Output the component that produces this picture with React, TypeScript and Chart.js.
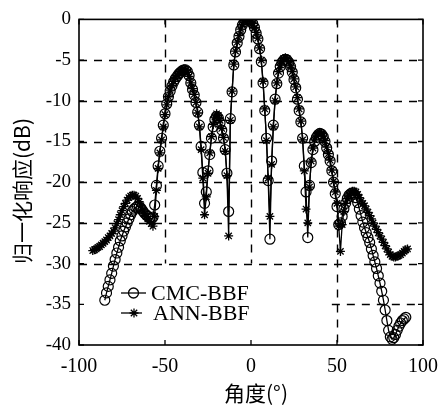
import React, { useEffect, useRef } from 'react';
import { Chart, registerables } from 'chart.js';

Chart.register(...registerables);

// ---------- data ----------
const cmcAngles = [
  -85, -84, -83, -82, -81, -80, -79, -78, -77, -76, -75, -74, -73, -72, -71, -70, -69, -68, -67, -66,
  -65, -64, -63, -62, -61, -60, -59, -58, -57, -56, -55, -54, -53, -52, -51, -50, -49, -48, -47, -46,
  -45, -44, -43, -42, -41, -40, -39, -38, -37, -36, -35, -34, -33, -32, -31, -30, -29, -28, -27, -26,
  -25, -24, -23, -22, -21, -20, -19, -18, -17, -16, -15, -14, -13, -12, -11, -10, -9, -8, -7, -6,
  -5, -4, -3, -2, -1, 0, 1, 2, 3, 4, 5, 6, 7, 8, 9, 10, 11, 12, 13, 14,
  15, 16, 17, 18, 19, 20, 21, 22, 23, 24, 25, 26, 27, 28, 29, 30, 31, 32, 33, 34,
  35, 36, 37, 38, 39, 40, 41, 42, 43, 44, 45, 46, 47, 48, 49, 50, 51, 52, 53, 54,
  55, 56, 57, 58, 59, 60, 61, 62, 63, 64, 65, 66, 67, 68, 69, 70, 71, 72, 73, 74,
  75, 76, 77, 78, 79, 80, 81, 82, 83, 84, 85, 86, 87, 88, 89, 90,
];
const cmcValues = [
  -34.5, -33.6, -32.8, -32.0, -31.2, -30.3, -29.5, -28.7, -28.0, -27.2, -26.6, -26.0, -25.5, -25.0, -24.5, -24.0, -23.6, -23.3, -23.1, -23.0,
  -23.0, -23.2, -23.5, -23.8, -24.0, -24.2, -24.4, -24.5, -24.3, -22.8, -20.4, -18.0, -16.2, -14.6, -13.0, -11.6, -10.4, -9.5, -8.8, -8.2,
  -7.7, -7.3, -7.0, -6.7, -6.5, -6.3, -6.2, -6.2, -6.4, -6.9, -7.8, -8.6, -9.3, -10.2, -11.4, -13.0, -15.6, -18.8, -22.6, -21.2,
  -18.6, -16.6, -14.6, -13.2, -12.3, -11.9, -12.1, -12.7, -13.6, -14.6, -16.0, -18.9, -23.6, -12.2, -8.9, -5.6, -4.0, -2.9, -2.1, -1.3,
  -0.7, -0.3, -0.1, 0, 0, -0.2, -0.5, -1.0, -1.7, -2.4, -3.6, -5.2, -7.8, -11.2, -14.6, -19.8, -27.0, -17.4, -13.0, -9.8,
  -7.9, -6.6, -5.8, -5.3, -5.0, -4.9, -5.0, -5.3, -5.8, -6.5, -7.4, -8.4, -9.8, -11.2, -12.6, -14.6, -18.0, -21.2, -26.8, -20.4,
  -17.6, -16.0, -15.0, -14.5, -14.2, -14.0, -14.1, -14.4, -15.0, -15.8, -16.6, -17.4, -18.6, -20.0, -21.4, -23.0, -25.2, -25.0, -24.2, -23.3,
  -22.6, -22.0, -21.6, -21.4, -21.3, -21.5, -21.9, -22.5, -23.3, -24.1, -24.9, -25.6, -26.2, -26.8, -27.4, -28.2, -29.0, -29.8, -30.6, -31.5,
  -32.4, -33.4, -34.5, -35.7, -37.0, -38.2, -39.0, -39.3, -39.1, -38.7, -38.2, -37.7, -37.3, -37.0, -36.8, -36.6,
];

const annAngles = [
  -92, -91, -90, -89, -88, -87, -86,
  -85, -84, -83, -82, -81, -80, -79, -78, -77, -76, -75, -74, -73, -72, -71, -70, -69, -68, -67, -66,
  -65, -64, -63, -62, -61, -60, -59, -58, -57, -56, -55, -54, -53, -52, -51, -50, -49, -48, -47, -46,
  -45, -44, -43, -42, -41, -40, -39, -38, -37, -36, -35, -34, -33, -32, -31, -30, -29, -28, -27, -26,
  -25, -24, -23, -22, -21, -20, -19, -18, -17, -16, -15, -14, -13, -12, -11, -10, -9, -8, -7, -6,
  -5, -4, -3, -2, -1, 0, 1, 2, 3, 4, 5, 6, 7, 8, 9, 10, 11, 12, 13, 14,
  15, 16, 17, 18, 19, 20, 21, 22, 23, 24, 25, 26, 27, 28, 29, 30, 31, 32, 33, 34,
  35, 36, 37, 38, 39, 40, 41, 42, 43, 44, 45, 46, 47, 48, 49, 50, 51, 52, 53, 54,
  55, 56, 57, 58, 59, 60, 61, 62, 63, 64, 65, 66, 67, 68, 69, 70, 71, 72, 73, 74,
  75, 76, 77, 78, 79, 80, 81, 82, 83, 84, 85, 86, 87, 88, 89, 90, 91,
];
const annValues = [
  -28.4, -28.3, -28.2, -28.0, -27.9, -27.7, -27.5,
  -27.3, -27.1, -26.8, -26.6, -26.3, -26.0, -25.6, -25.1, -24.6, -24.0, -23.5, -23.0, -22.6, -22.2, -21.9, -21.7, -21.6, -21.6, -21.7, -22.0,
  -22.4, -22.9, -23.4, -23.8, -24.2, -24.5, -24.8, -25.1, -25.4, -24.2, -21.0, -18.3, -16.4, -14.8, -13.2, -11.7, -10.5, -9.5, -8.7, -8.1,
  -7.6, -7.2, -6.9, -6.6, -6.4, -6.2, -6.1, -6.2, -6.5, -7.0, -7.8, -8.5, -9.2, -10.2, -11.5, -13.2, -16.0, -19.5, -24.0, -21.8,
  -18.9, -16.4, -14.4, -12.9, -12.0, -11.6, -11.8, -12.4, -13.4, -14.5, -16.2, -19.2, -26.6, -12.4, -8.8, -5.5, -3.9, -2.8, -2.0, -1.2,
  -0.6, -0.2, 0, 0, -0.1, -0.2, -0.5, -1.0, -1.6, -2.3, -3.5, -5.0, -7.6, -11.0, -14.9, -19.5, -24.2, -17.8, -13.2, -10.0,
  -7.8, -6.4, -5.6, -5.1, -4.8, -4.7, -4.8, -5.2, -5.7, -6.4, -7.3, -8.3, -9.6, -11.0, -12.5, -14.8, -18.6, -23.3, -25.0, -20.6,
  -17.4, -15.8, -14.8, -14.3, -14.0, -13.9, -14.0, -14.3, -14.9, -15.7, -16.5, -17.3, -18.5, -19.9, -21.2, -22.6, -25.4, -28.5, -25.2, -23.6,
  -22.6, -22.0, -21.6, -21.3, -21.1, -21.1, -21.2, -21.5, -21.9, -22.3, -22.6, -22.9, -23.3, -23.7, -24.1, -24.5, -25.0, -25.4, -25.8, -26.2,
  -26.6, -27.0, -27.4, -27.8, -28.2, -28.6, -28.9, -29.1, -29.2, -29.2, -29.1, -29.0, -28.9, -28.7, -28.5, -28.3, -28.2,
];

const seriesNames = ['CMC-BBF', 'ANN-BBF'];
const xTickValues = [-100, -50, 0, 50, 100];
const xTickLabels = ['-100', '-50', '0', '50', '100'];
const yTickValues = [0, -5, -10, -15, -20, -25, -30, -35, -40];
const yTickLabels = ['0', '-5', '-10', '-15', '-20', '-25', '-30', '-35', '-40'];
const xTitle = '角度(°)';
const yTitle = '归一化响应(dB)';
// region (data units) covered by the opaque legend box
const legendRegion = { xMin: -100, xMax: 47, yMin: -40, yMax: -30 };

const SERIF = '"Liberation Serif", "DejaVu Serif", serif';
const CJK = '"Noto Sans CJK SC", "Noto Sans", sans-serif';

function drawStar(ctx: CanvasRenderingContext2D, x: number, y: number, r: number) {
  ctx.beginPath();
  for (let k = 0; k < 4; k++) {
    const a = (k * Math.PI) / 4;
    ctx.moveTo(x - r * Math.cos(a), y - r * Math.sin(a));
    ctx.lineTo(x + r * Math.cos(a), y + r * Math.sin(a));
  }
  ctx.stroke();
}

const decorPlugin = {
  id: 'decor',
  beforeDatasetsDraw(chart: any) {
    const { ctx, chartArea } = chart;
    const xs = chart.scales.x;
    const ys = chart.scales.y;
    const { left, right, top, bottom } = chartArea;
    ctx.save();
    ctx.strokeStyle = '#000';
    ctx.lineWidth = 1.4;
    ctx.setLineDash([8, 7]);
    // vertical grid
    xTickValues.forEach((v) => {
      if (v <= -100 || v >= 100) return;
      const px = Math.round(xs.getPixelForValue(v)) + 0.5;
      let yEnd = bottom;
      if (v > legendRegion.xMin && v < legendRegion.xMax) yEnd = ys.getPixelForValue(legendRegion.yMax);
      ctx.beginPath();
      ctx.moveTo(px, top);
      ctx.lineTo(px, yEnd);
      ctx.stroke();
    });
    // horizontal grid
    yTickValues.forEach((v) => {
      if (v >= 0 || v <= -40) return;
      const py = Math.round(ys.getPixelForValue(v)) + 0.5;
      let xStart = left;
      if (v > legendRegion.yMin && v < legendRegion.yMax) xStart = xs.getPixelForValue(legendRegion.xMax);
      ctx.beginPath();
      ctx.moveTo(xStart, py);
      ctx.lineTo(right, py);
      ctx.stroke();
    });
    // frame
    ctx.setLineDash([]);
    ctx.lineWidth = 1.6;
    ctx.strokeRect(left, top, right - left, bottom - top);
    // inward tick marks
    ctx.lineWidth = 1.3;
    const tl = 5;
    xTickValues.forEach((v) => {
      const px = xs.getPixelForValue(v);
      ctx.beginPath();
      ctx.moveTo(px, bottom);
      ctx.lineTo(px, bottom - tl);
      ctx.moveTo(px, top);
      ctx.lineTo(px, top + tl);
      ctx.stroke();
    });
    yTickValues.forEach((v) => {
      const py = ys.getPixelForValue(v);
      ctx.beginPath();
      ctx.moveTo(left, py);
      ctx.lineTo(left + tl, py);
      ctx.moveTo(right, py);
      ctx.lineTo(right - tl, py);
      ctx.stroke();
    });
    ctx.restore();
  },
  afterDraw(chart: any) {
    const { ctx } = chart;
    ctx.save();
    ctx.fillStyle = '#000';
    ctx.strokeStyle = '#000';
    // legend
    ctx.lineWidth = 1.3;
    const lx0 = 121;
    const lx1 = 146;
    const rows = [293, 313];
    // CMC row
    ctx.beginPath();
    ctx.moveTo(lx0, rows[0]);
    ctx.lineTo(lx1, rows[0]);
    ctx.stroke();
    ctx.beginPath();
    ctx.arc(133.5, rows[0], 5, 0, Math.PI * 2);
    ctx.stroke();
    // ANN row
    ctx.beginPath();
    ctx.moveTo(lx0, rows[1]);
    ctx.lineTo(lx1 - 4, rows[1]);
    ctx.stroke();
    drawStar(ctx, 134, rows[1], 4.5);
    ctx.font = `22px ${SERIF}`;
    ctx.textAlign = 'left';
    ctx.textBaseline = 'middle';
    ctx.fillText(seriesNames[0], 151, rows[0] + 1);
    ctx.fillText(seriesNames[1], 153, rows[1] + 1);
    // axis titles
    ctx.font = `21px ${CJK}`;
    ctx.textAlign = 'center';
    ctx.textBaseline = 'middle';
    ctx.fillText(xTitle, 256, 393);
    ctx.translate(22, 191);
    ctx.rotate(-Math.PI / 2);
    ctx.fillText(yTitle, 0, 0);
    ctx.restore();
  },
};

export default function App() {
  const ref = useRef<HTMLCanvasElement | null>(null);
  useEffect(() => {
    if (!ref.current) return;
    const cmc = cmcAngles.map((a, i) => ({ x: a, y: cmcValues[i] }));
    const ann = annAngles.map((a, i) => ({ x: a, y: annValues[i] }));
    const chart = new Chart(ref.current, {
      type: 'line',
      data: {
        datasets: [
          {
            label: seriesNames[1],
            data: ann,
            borderColor: '#000',
            borderWidth: 1.3,
            pointStyle: 'star',
            pointRadius: 4.5,
            pointBorderWidth: 1.3,
            pointBorderColor: '#000',
            pointBackgroundColor: '#000',
            fill: false,
            tension: 0,
          },
          {
            label: seriesNames[0],
            data: cmc,
            borderColor: '#000',
            borderWidth: 1.3,
            pointStyle: 'circle',
            pointRadius: 5,
            pointBorderWidth: 1.2,
            pointBorderColor: '#000',
            pointBackgroundColor: 'rgba(0,0,0,0)',
            fill: false,
            tension: 0,
          },
        ],
      },
      options: {
        responsive: false,
        animation: false,
        events: [],
        layout: { padding: { top: 14, right: 16, left: 0, bottom: 0 } },
        plugins: { legend: { display: false }, tooltip: { enabled: false } },
        scales: {
          x: {
            type: 'linear',
            min: -100,
            max: 100,
            border: { display: false },
            grid: { display: false, drawTicks: false },
            afterFit: (s: any) => {
              s.height = 67;
            },
            afterBuildTicks: (s: any) => {
              s.ticks = xTickValues.map((v) => ({ value: v }));
            },
            ticks: {
              padding: 10,
              color: '#000',
              font: { family: SERIF, size: 20 },
              maxRotation: 0,
              callback: (v: any) => xTickLabels[xTickValues.indexOf(Number(v))] ?? '',
            },
          },
          y: {
            type: 'linear',
            min: -40,
            max: 0,
            border: { display: false },
            grid: { display: false, drawTicks: false },
            afterFit: (s: any) => {
              s.width = 79;
            },
            afterBuildTicks: (s: any) => {
              s.ticks = yTickValues.slice().reverse().map((v) => ({ value: v }));
            },
            ticks: {
              padding: 8,
              color: '#000',
              font: { family: SERIF, size: 19 },
              callback: (v: any) => yTickLabels[yTickValues.indexOf(Number(v))] ?? '',
            },
          },
        },
      },
      plugins: [decorPlugin],
    });
    return () => chart.destroy();
  }, []);
  return (
    <div style={{ position: 'fixed', left: 0, top: 0, width: 448, height: 412, background: '#fff' }}>
      <canvas ref={ref} width={448} height={412} style={{ display: 'block' }} />
    </div>
  );
}
